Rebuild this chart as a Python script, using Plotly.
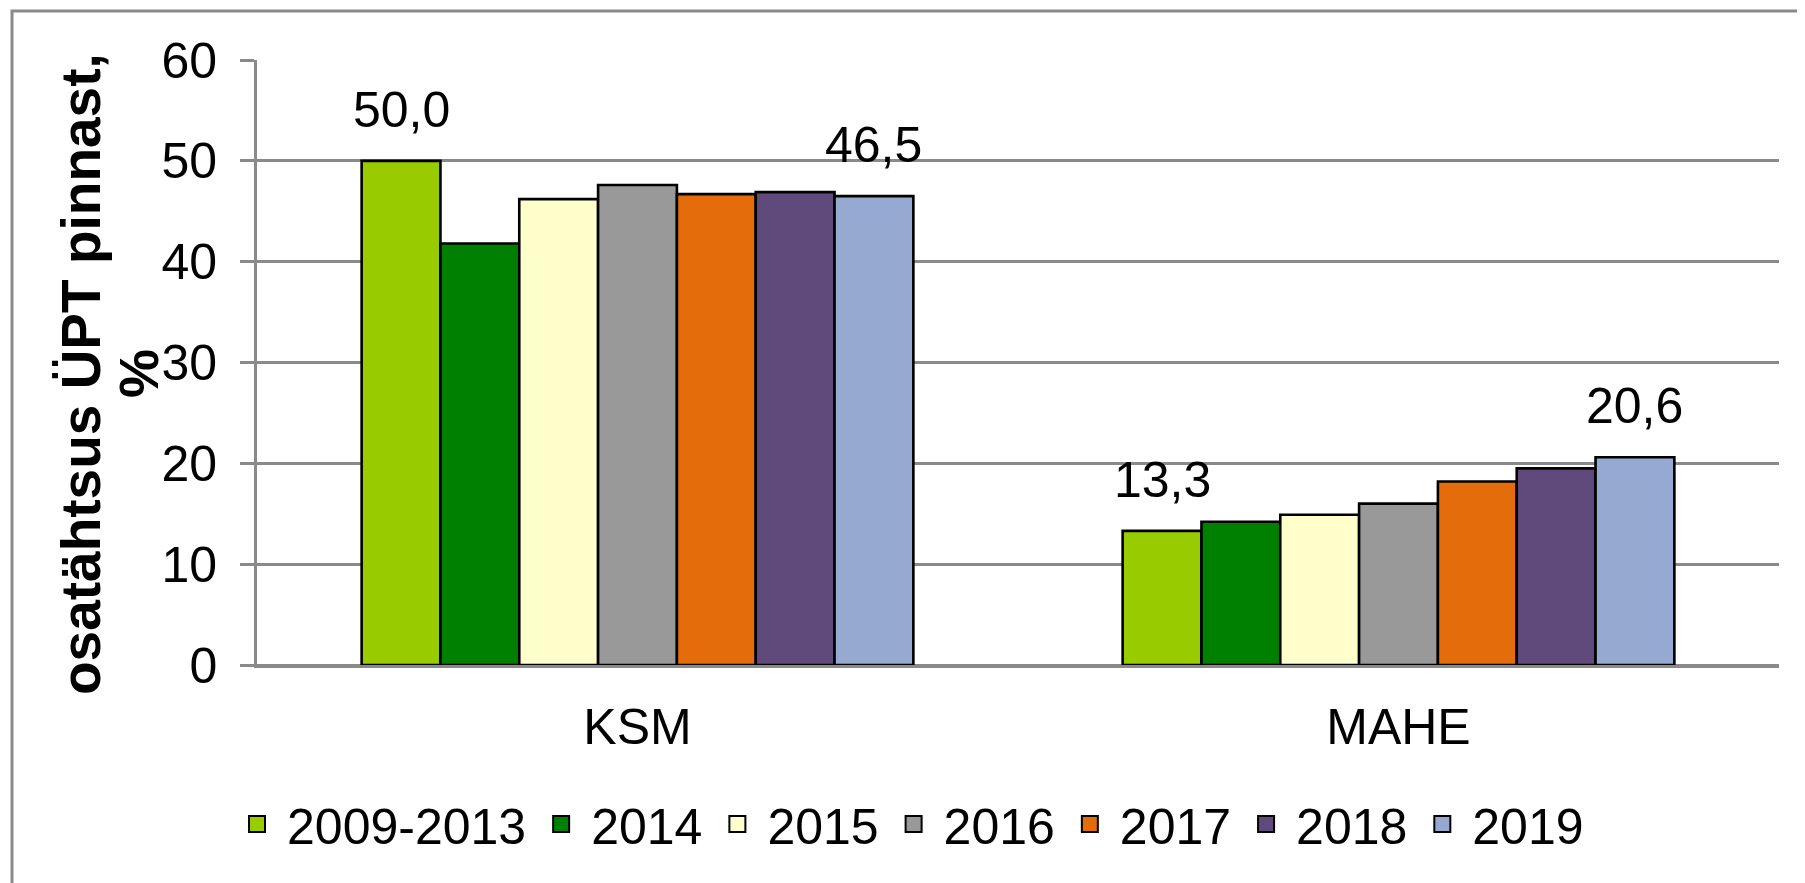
import plotly.graph_objects as go

categories = ["KSM", "MAHE"]
series_names = ["2009-2013", "2014", "2015", "2016", "2017", "2018", "2019"]
ksm_values = [50.0, 41.8, 46.2, 47.6, 46.7, 46.9, 46.5]
mahe_values = [13.3, 14.2, 14.9, 16.0, 18.2, 19.5, 20.6]
series_colors = ["#99CC00", "#008000", "#FFFFCC", "#999999", "#E46C0A", "#604A7B", "#95A9D1"]
y_title_lines = ["osatähtsus ÜPT pinnast,", "%"]
# which bars carry a value label (first and last of each group)
labelled = [0, 6]

FONT = "Liberation Sans, Arial, sans-serif"
FS = 50
GRID = "#8a8a8a"

# page has an 8px body margin, so the figure is 8px smaller than the window
W, H = 1797, 875
ML, MR, MT, MB = 249, 26, 52, 218
PW, PH = W - ML - MR, H - MT - MB

fig = go.Figure()
for i, name in enumerate(series_names):
    fig.add_trace(go.Bar(
        x=categories,
        y=[ksm_values[i], mahe_values[i]],
        name=name,
        legendgroup=name,
        showlegend=False,
        marker=dict(color=series_colors[i], line=dict(color="black", width=2.6)),
    ))
    # legend proxy with a larger square swatch
    fig.add_trace(go.Scatter(
        x=[None], y=[None], mode="markers", name=name, legendgroup=name,
        marker=dict(symbol="square", size=16, color=series_colors[i],
                    line=dict(color="black", width=2)),
    ))

bargap = 0.275
cat_px = PW / len(categories)
bar_px = cat_px * (1 - bargap) / len(series_names)

annotations = []
for ci, cat in enumerate(categories):
    vals = ksm_values if ci == 0 else mahe_values
    for i in labelled:
        annotations.append(dict(
            x=cat, y=vals[i], xref="x", yref="y",
            text=f"{vals[i]:.1f}".replace(".", ","),
            showarrow=False, xanchor="center", yanchor="middle",
            xshift=(i - (len(series_names) - 1) / 2) * bar_px, yshift=51,
            font=dict(family=FONT, size=FS, color="black"),
        ))

# y-axis title as two rotated lines
title_x = [73, 131]
title_y = 366
for line, px in zip(y_title_lines, title_x):
    annotations.append(dict(
        x=0, y=(H - MB - title_y) / PH, xref="paper", yref="paper",
        xshift=px - ML, text=f"<b>{line}</b>", textangle=-90, showarrow=False,
        xanchor="center", yanchor="middle",
        font=dict(family=FONT, size=55, color="black"),
    ))

fig.update_layout(
    width=W, height=H,
    margin=dict(l=ML, r=MR, t=MT, b=MB, pad=0),
    paper_bgcolor="white", plot_bgcolor="white",
    barmode="group", bargap=bargap, bargroupgap=0,
    font=dict(family=FONT, size=FS, color="black"),
    xaxis=dict(showline=True, linecolor=GRID, linewidth=2.6, showgrid=False,
               ticks="", tickfont=dict(family=FONT, size=FS, color="black"),
               ticklabelstandoff=16),
    yaxis=dict(range=[0, 60], dtick=10, showgrid=True, gridcolor=GRID, gridwidth=2.6,
               showline=True, linecolor=GRID, linewidth=2.6,
               zeroline=True, zerolinecolor=GRID, zerolinewidth=2.6,
               ticks="outside", ticklen=14, tickwidth=2.6, tickcolor=GRID,
               tickfont=dict(family=FONT, size=FS, color="black"),
               ticklabelstandoff=13),
    legend=dict(orientation="h", x=-0.0197, xanchor="left", y=(H - MB - 816) / PH,
                yanchor="middle", font=dict(family=FONT, size=FS, color="black"),
                itemwidth=50, tracegroupgap=0, bgcolor="rgba(0,0,0,0)"),
    annotations=annotations,
    shapes=[dict(type="rect", xref="paper", yref="paper",
                 x0=(4 - ML) / PW, x1=(W + 20 - ML) / PW,
                 y0=(H - MB - (H + 20)) / PH, y1=1 + (MT - 3) / PH,
                 line=dict(color=GRID, width=3), layer="below")],
)

fig.write_html("out.html")
